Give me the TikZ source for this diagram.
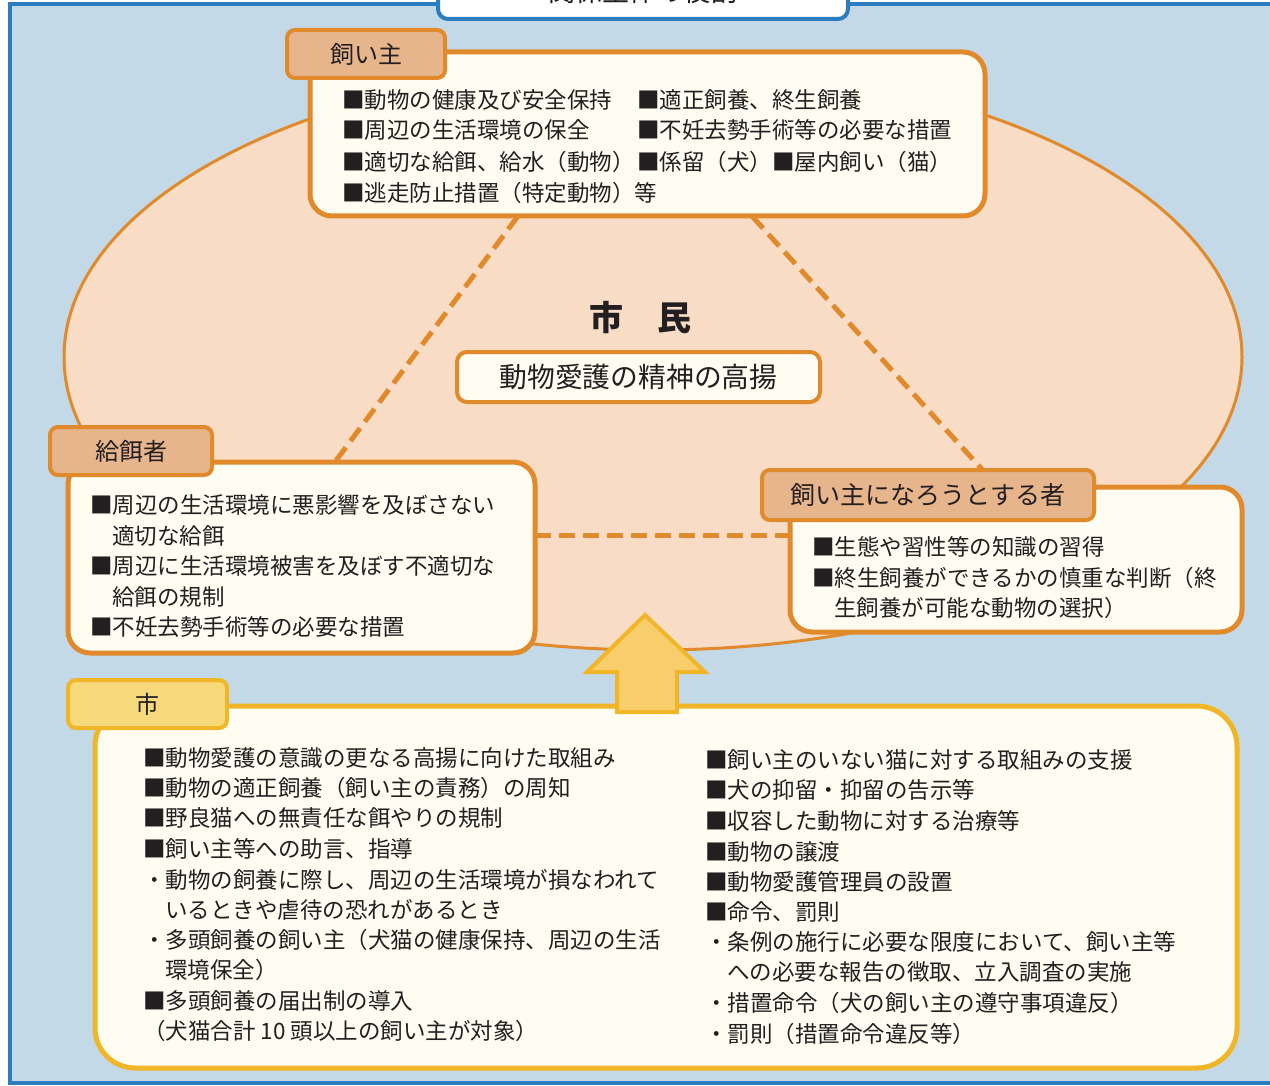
\documentclass[tikz,border=0pt]{standalone}
\usepackage{fontspec}
\setmainfont{Noto Sans CJK JP}
\usetikzlibrary{calc,shapes.geometric}
\definecolor{bgblue}{HTML}{C4D9E7}
\definecolor{bordblue}{HTML}{2B7DC0}
\definecolor{peach}{HTML}{F8DCC5}
\definecolor{orangeline}{HTML}{E08A2B}
\definecolor{cream}{HTML}{FFFCF2}
\definecolor{tan}{HTML}{E7B58C}
\definecolor{yellowline}{HTML}{F1B628}
\definecolor{yellowtab}{HTML}{F6D97A}
\definecolor{arrowfill}{HTML}{F8CE6C}
\definecolor{textc}{HTML}{231F20}
\newcommand\jline[4]{\node[txt] (#1) at (#2,#3) {#4};}
\begin{document}
\begin{tikzpicture}[x=0.5pt,y=-0.5pt,
  txt/.style={anchor=base west, inner sep=0pt, font=\fontsize{11.25}{13}\selectfont, text=textc},
  mainbox/.style={draw=orangeline, line width=2.5pt, fill=cream, rounded corners=11pt, inner sep=0pt},
  tabbox/.style={draw=orangeline, line width=2pt, fill=tan, rounded corners=4pt, inner sep=0pt, text=textc, font=\fontsize{12}{14}\selectfont},
  citybox/.style={draw=yellowline, line width=2.5pt, fill=cream, rounded corners=20pt, inner sep=0pt},
  citytabbox/.style={draw=yellowline, line width=2pt, fill=yellowtab, rounded corners=4pt, inner sep=0pt, text=textc, font=\fontsize{12}{14}\selectfont},
  dashline/.style={draw=orangeline, line width=2.5pt, dash pattern=on 8pt off 4pt},
  refbox/.style={inner sep=0pt, draw=none, fill=none}
]
\useasboundingbox (0,0) rectangle (1270,1086);
\fill[white] (0,0) rectangle (1270,1086);
% background panel
\node[draw=bordblue, fill=bgblue, line width=2pt, minimum width=640pt, minimum height=539.5pt, inner sep=0pt] (panel) at (650,543.5) {};
% title box (cut at top)
\node[draw=bordblue, fill=white, line width=2pt, rounded corners=5pt, minimum width=205pt, minimum height=25pt, inner sep=0pt] (title) at (643,-6) {};
\node[anchor=base, inner sep=0pt, font=\fontsize{13.5}{15}\selectfont, text=textc] (titletext) at (643,2) {関係主体の役割};
% citizens ellipse
\node[draw=orangeline, fill=peach, line width=1.5pt, ellipse, minimum width=589pt, minimum height=293pt, inner sep=0pt] (citizens) at (653,357) {};
% reference frames for the connectors
\node[refbox, minimum width=337.5pt, minimum height=82pt] (ownerref) at (647.5,134) {};
\node[refbox, minimum width=233.5pt, minimum height=95.5pt] (feederref) at (301.5,557.5) {};
\node[refbox, minimum width=226pt, minimum height=72.5pt] (prospref) at (1016,559.5) {};
\node[refbox, minimum width=166pt, minimum height=25pt] (prosptabref) at (928,495) {};
\coordinate (hline) at (0,535);
\draw[dashline] ($(ownerref.south west)!0.308!(ownerref.south east)$) -- ($(feederref.north west)!0.572!(feederref.north east)$);
\draw[dashline] ($(ownerref.south west)!0.655!(ownerref.south east)$) -- ($(prosptabref.north west)!0.663!(prosptabref.north east)$);
\draw[dashline] (feederref.east |- hline) -- (prospref.west |- hline);
% centre texts
\node[inner sep=0pt, font=\fontsize{17}{19}\selectfont\bfseries, text=textc] (shimin) at (640,318) {市　民};
\node[draw=orangeline, fill=cream, line width=2pt, rounded corners=5pt, minimum width=181.5pt, minimum height=25pt, inner sep=0pt, font=\fontsize{13.9}{16}\selectfont, text=textc] (motto) at (638.5,377) {動物愛護の精神の高揚};
% owner box
\node[mainbox, minimum width=337.5pt, minimum height=82pt] (owner) at (647.5,134) {};
\node[tabbox, minimum width=79pt, minimum height=24pt] (ownertab) at (366,54) {飼い主};
\jline{o1}{342}{109}{■動物の健康及び安全保持}
\jline{o2}{342}{139}{■周辺の生活環境の保全}
\jline{o3}{342}{170}{■適切な給餌、給水（動物）}
\jline{o4}{342}{201}{■逃走防止措置（特定動物）等}
\jline{o5}{637}{109}{■適正飼養、終生飼養}
\jline{o6}{637}{139}{■不妊去勢手術等の必要な措置}
\jline{o7}{637}{170}{■係留（犬）■屋内飼い（猫）}
% feeder box
\node[mainbox, minimum width=233.5pt, minimum height=95.5pt] (feeder) at (301.5,557.5) {};
\node[tabbox, minimum width=81pt, minimum height=24pt] (feedertab) at (131,451) {給餌者};
\jline{f1}{90}{513}{■周辺の生活環境に悪影響を及ぼさない}
\jline{f2}{112}{544}{適切な給餌}
\jline{f3}{90}{574}{■周辺に生活環境被害を及ぼす不適切な}
\jline{f4}{112}{605}{給餌の規制}
\jline{f5}{90}{635}{■不妊去勢手術等の必要な措置}
% prospective owner box
\node[mainbox, minimum width=226pt, minimum height=72.5pt] (prosp) at (1016,559.5) {};
\node[tabbox, minimum width=166pt, minimum height=25pt, font=\fontsize{12.5}{14}\selectfont] (prosptab) at (928,495) {飼い主になろうとする者};
\jline{p1}{812}{555}{■生態や習性等の知識の習得}
\jline{p2}{812}{586}{■終生飼養ができるかの慎重な判断（終}
\jline{p3}{834}{616}{生飼養が可能な動物の選択）}
% city box
\node[citybox, minimum width=571pt, minimum height=181pt] (city) at (666,887) {};
\node[citytabbox, minimum width=79.5pt, minimum height=24pt] (citytab) at (147.5,704) {市};
% arrow
\draw[draw=yellowline, fill=arrowfill, line width=2pt, line join=miter]
  (617,712) -- (617,672) -- (587,672) -- (645,615) -- (705,672) -- (677,672) -- (677,712) -- cycle;
\jline{c1}{143}{766}{■動物愛護の意識の更なる高揚に向けた取組み}
\jline{c2}{143}{796}{■動物の適正飼養（飼い主の責務）の周知}
\jline{c3}{143}{826}{■野良猫への無責任な餌やりの規制}
\jline{c4}{143}{857}{■飼い主等への助言、指導}
\jline{c5}{143}{888}{・動物の飼養に際し、周辺の生活環境が損なわれて}
\jline{c6}{165}{918}{いるときや虐待の恐れがあるとき}
\jline{c7}{143}{948}{・多頭飼養の飼い主（犬猫の健康保持、周辺の生活}
\jline{c8}{165}{978}{環境保全）}
\jline{c9}{143}{1009}{■多頭飼養の届出制の導入}
\jline{c10}{143}{1039}{（犬猫合計 10 頭以上の飼い主が対象）}
\jline{r1}{705}{768}{■飼い主のいない猫に対する取組みの支援}
\jline{r2}{705}{798}{■犬の抑留・抑留の告示等}
\jline{r3}{705}{829}{■収容した動物に対する治療等}
\jline{r4}{705}{860}{■動物の譲渡}
\jline{r5}{705}{890}{■動物愛護管理員の設置}
\jline{r6}{705}{920}{■命令、罰則}
\jline{r7}{705}{950}{・条例の施行に必要な限度において、飼い主等}
\jline{r8}{727}{980}{への必要な報告の徴取、立入調査の実施}
\jline{r9}{705}{1011}{・措置命令（犬の飼い主の遵守事項違反）}
\jline{r10}{705}{1042}{・罰則（措置命令違反等）}
\end{tikzpicture}
\end{document}
